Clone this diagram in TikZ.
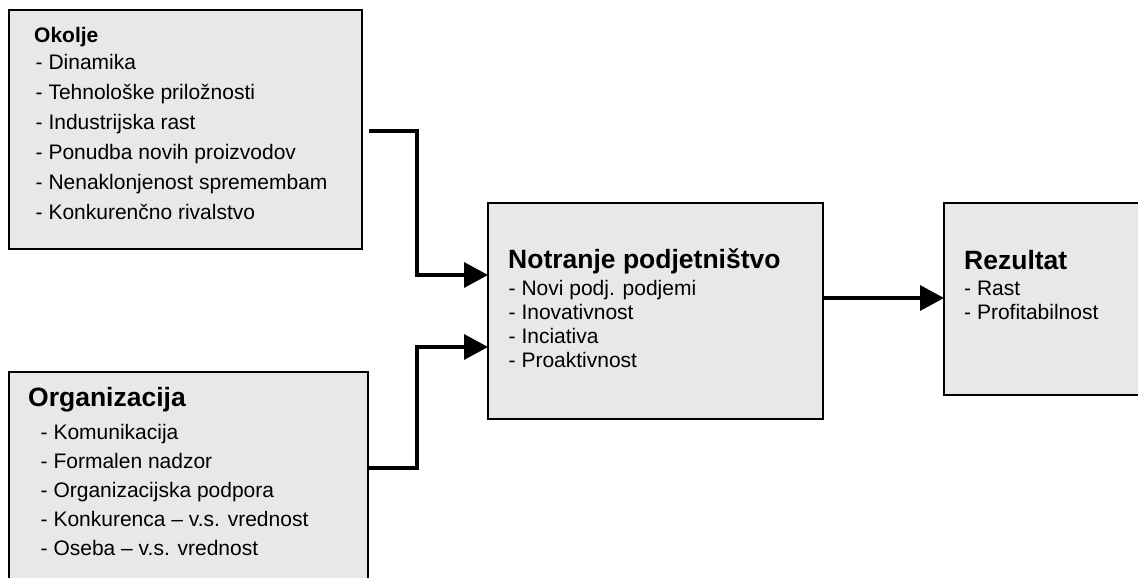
\documentclass[tikz,border=0pt]{standalone}
\usepackage{fontspec}
\setmainfont{Liberation Sans}
\usetikzlibrary{arrows.meta}
\definecolor{boxfill}{RGB}{232,232,232}
\tikzset{
 box/.style={draw=black, line width=1.5pt, fill=boxfill, inner sep=0pt, outer sep=0pt, anchor=north west},
 item/.style={anchor=base west, inner sep=0pt, font=\fontsize{21}{25}\selectfont},
 bigtitle/.style={anchor=base west, inner sep=0pt, font=\fontsize{26.5}{30}\selectfont\bfseries},
 smalltitle/.style={anchor=base west, inner sep=0pt, font=\fontsize{21}{25}\selectfont\bfseries},
 conn/.style={line width=3.5pt, line join=miter, -{Triangle[length=24pt,width=25pt]}},
 link/.style={line width=3.5pt, line join=miter}
}
\begin{document}
\begin{tikzpicture}[x=1pt,y=-1pt]
\useasboundingbox (0,0) rectangle (1138,578);
% boxes
\node[box, minimum width=353pt, minimum height=239pt] (ok) at (9,10) {};
\node[box, minimum width=359pt, minimum height=220pt] (org) at (9,372) {};
\node[box, minimum width=335pt, minimum height=216pt] (nt) at (488,203) {};
\node[box, minimum width=210pt, minimum height=192pt] (rz) at (944,203) {};
% Okolje
\node[smalltitle] (ok-t) at (34,42.5) {Okolje};
\foreach \t [count=\i] in {Dinamika, Tehnološke priložnosti, Industrijska rast, Ponudba novih proizvodov, Nenaklonjenost spremembam, Konkurenčno rivalstvo}
  \node[item] (ok-\i) at (35.5,{70+29.8*(\i-1)}) {- \t};
% Organizacija
\node[bigtitle] (org-t) at (28,406) {Organizacija};
\foreach \t [count=\i] in {Komunikacija, Formalen nadzor, Organizacijska podpora, Konkurenca – v.s. vrednost, Oseba – v.s. vrednost}
  \node[item] (org-\i) at (40.5,{439+29*(\i-1)}) {- \t};
% Notranje
\node[bigtitle] (nt-t) at (508,268) {Notranje podjetništvo};
\foreach \t [count=\i] in {Novi podj. podjemi, Inovativnost, Inciativa, Proaktivnost}
  \node[item] (nt-\i) at (508.5,{295+24.3*(\i-1)}) {- \t};
% Rezultat
\node[bigtitle] (rz-t) at (964,269) {Rezultat};
\foreach \t [count=\i] in {Rast, Profitabilnost}
  \node[item] (rz-\i) at (964,{295+24.5*(\i-1)}) {- \t};
% connectors
\coordinate (a1) at ([xshift=7pt,yshift=-1.5pt]ok.east);
\coordinate (a2) at ([yshift=14pt]org.east);
\draw[conn] (a1) -- ++(48,0) |- ([yshift=36pt]nt.west);
\draw[conn] (a2) -- ++(49,0) |- ([yshift=-36pt]nt.west);
\draw[conn] ([yshift=13pt]nt.east) -- ([yshift=13pt]nt.east -| rz.west);
\end{tikzpicture}
\end{document}
